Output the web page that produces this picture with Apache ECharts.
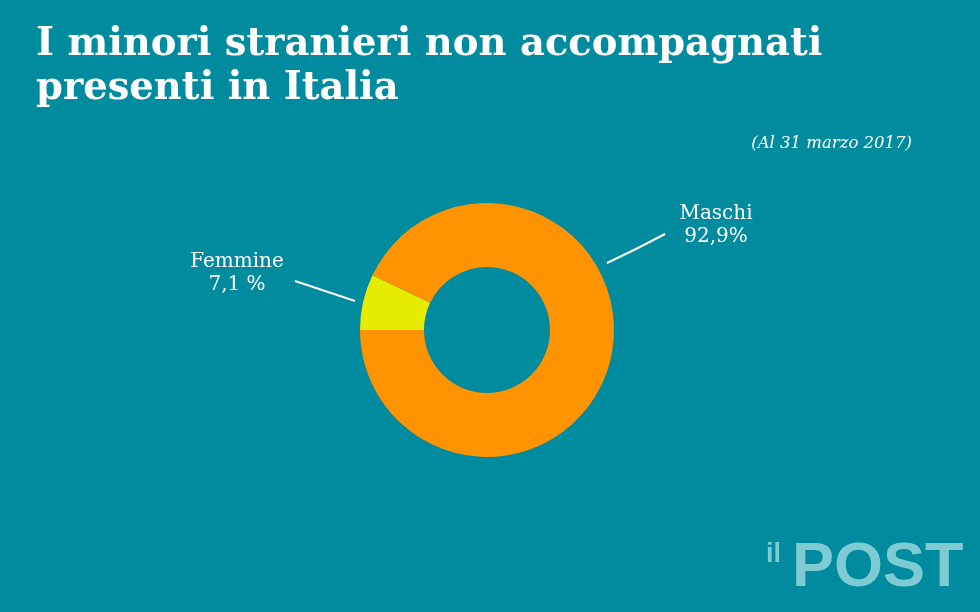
<!DOCTYPE html>
<html>
<head>
<meta charset="utf-8">
<script src="https://cdn.jsdelivr.net/npm/echarts@6/dist/echarts.min.js"></script>
<style>
html,body{margin:0;padding:0;background:#008B9E;}
#chart{width:980px;height:612px;}
</style>
</head>
<body>
<div id="chart"></div>
<script>
const titleLines = ['I minori stranieri non accompagnati', 'presenti in Italia'];
const subtitle = '(Al 31 marzo 2017)';
const categories = ['Femmine', 'Maschi'];
const values = [7.1, 92.9];
const valueLabels = ['7,1 %', '92,9%'];
const colors = ['#E6EC00', '#FF9300'];

const labelSpots = {
  'Femmine': { x: 237, y: 273, line: [[295, 281], [325, 291], [355, 301]] },
  'Maschi': { x: 716, y: 225, line: [[665, 234], [636, 249], [607, 263]] }
};

const chart = echarts.init(document.getElementById('chart'), null, { renderer: 'canvas' });
chart.setOption({
  backgroundColor: '#008B9E',
  animation: false,
  title: [
    {
      text: titleLines.join('\n'),
      left: 31, top: 18,
      textStyle: { color: '#fff', fontFamily: 'DejaVu Serif', fontWeight: 'bold', fontSize: 38.5, lineHeight: 44 }
    },
    {
      text: subtitle,
      right: 63, top: 130,
      textStyle: { color: '#fff', fontFamily: 'DejaVu Serif', fontStyle: 'italic', fontWeight: 'normal', fontSize: 16.5 }
    }
  ],
  graphic: [
    { type: 'text', left: 766, top: 541, style: { text: 'il', fill: '#7FCBD3', font: 'bold 27px "Liberation Sans"' } },
    { type: 'text', left: 792, top: 537, style: { text: 'POST', fill: '#7FCBD3', font: 'bold 63px "Liberation Sans"' } }
  ],
  series: [{
    type: 'pie',
    center: [487, 330],
    radius: [63, 127],
    startAngle: 180,
    clockwise: true,
    silent: true,
    data: categories.map((c, i) => ({ name: c, value: values[i], itemStyle: { color: colors[i] } })),
    label: {
      show: true,
      color: '#fff',
      fontFamily: 'DejaVu Serif',
      fontSize: 20,
      lineHeight: 23,
      align: 'center',
      formatter: p => p.name + '\n' + valueLabels[p.dataIndex]
    },
    labelLine: { show: true, lineStyle: { color: '#fff', width: 2 } },
    labelLayout: function (params) {
      const name = categories[params.dataIndex];
      const s = labelSpots[name];
      return { x: s.x, y: s.y, align: 'center', verticalAlign: 'middle', labelLinePoints: s.line };
    }
  }]
});
</script>
</body>
</html>
